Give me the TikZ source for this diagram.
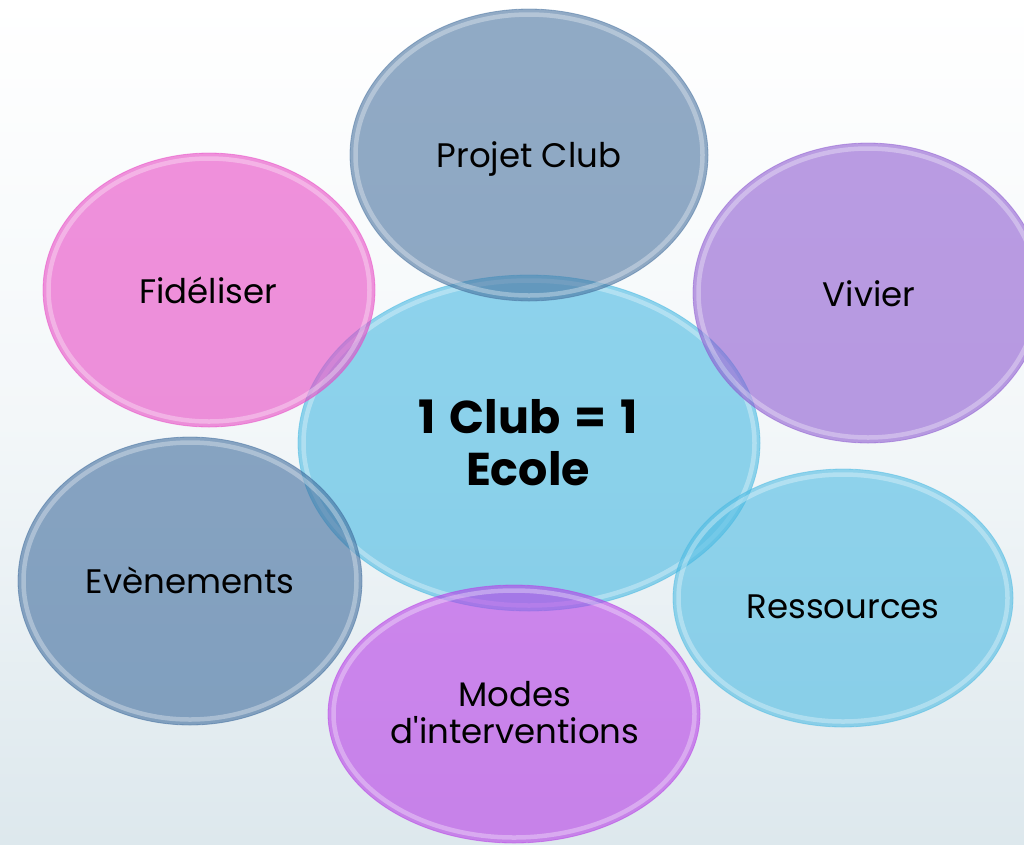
\documentclass[tikz,border=0pt]{standalone}
\usepackage{fontspec}
\setmainfont[BoldFeatures={WordSpace=1.45}]{Poppins}
\usetikzlibrary{shapes.geometric}
\definecolor{cCenter}{RGB}{71,185,226}
\definecolor{cProjet}{RGB}{72,114,159}
\definecolor{cFid}{RGB}{232,73,197}
\definecolor{cVivier}{RGB}{142,91,209}
\definecolor{cEven}{RGB}{63,108,157}
\definecolor{cRess}{RGB}{77,187,227}
\definecolor{cModes}{RGB}{184,62,231}
\definecolor{bgBottom}{RGB}{221,232,237}
\newcommand\myrim[4]{%
  \draw[white, line width=4.5pt, opacity=0.32] (#1,#2) ellipse [x radius=#3pt-5.5pt, y radius=#4pt-5.5pt];}
\begin{document}
\begin{tikzpicture}[x=1pt,y=-1pt,
  bubble/.style={ellipse, inner sep=0pt, fill opacity=0.6, draw opacity=0.5, line width=0.8pt},
  lbl/.style={anchor=base, font=\fontsize{34}{40}\selectfont, text=black, inner sep=0pt},
  lblbig/.style={anchor=base, font=\fontsize{46}{52}\bfseries\selectfont, text=black, inner sep=0pt}]
\shade[top color=white, bottom color=bgBottom, middle color={rgb,255:red,243;green,247;blue,249}] (0,0) rectangle (1024,844);
\useasboundingbox (0,0) rectangle (1024,844);

\node[bubble, fill=cCenter, draw=cCenter, minimum width=462pt, minimum height=336pt] (center) at (529,443) {};
\myrim{529}{443}{231}{168}
\node[bubble, fill=cProjet, draw=cProjet, minimum width=358pt, minimum height=292pt] (projet) at (529,155) {};
\myrim{529}{155}{179}{146}
\node[bubble, fill=cVivier, draw=cVivier, minimum width=350pt, minimum height=300pt] (vivier) at (868,293) {};
\myrim{868}{293}{175}{150}
\node[bubble, fill=cRess, draw=cRess, minimum width=340pt, minimum height=258pt] (ress) at (843,598) {};
\myrim{843}{598}{170}{129}
\node[bubble, fill=cModes, draw=cModes, minimum width=372pt, minimum height=258pt] (modes) at (514,714) {};
\myrim{514}{714}{186}{129}
\node[bubble, fill=cEven, draw=cEven, minimum width=344pt, minimum height=288pt] (even) at (190,581) {};
\myrim{190}{581}{172}{144}
\node[bubble, fill=cFid, draw=cFid, minimum width=332pt, minimum height=274pt] (fid) at (209,290) {};
\myrim{209}{290}{166}{137}

\node[lbl] (tProjet) at (529,167) {Projet Club};
\node[lbl] (tFid) at (208,303) {Fidéliser};
\node[lbl] (tVivier) at (869,306) {Vivier};
\node[lbl] (tEven) at (190,593) {Evènements};
\node[lbl] (tRess) at (843,618) {Ressources};
\node[lbl] (tModes1) at (515,706) {Modes};
\node[lbl] (tModes2) at (515,743) {d\textquotesingle interventions};
\node[lblbig] (tCenter1) at (528,433) {1 Club = 1};
\node[lblbig] (tCenter2) at (528,485) {Ecole};
\end{tikzpicture}
\end{document}
